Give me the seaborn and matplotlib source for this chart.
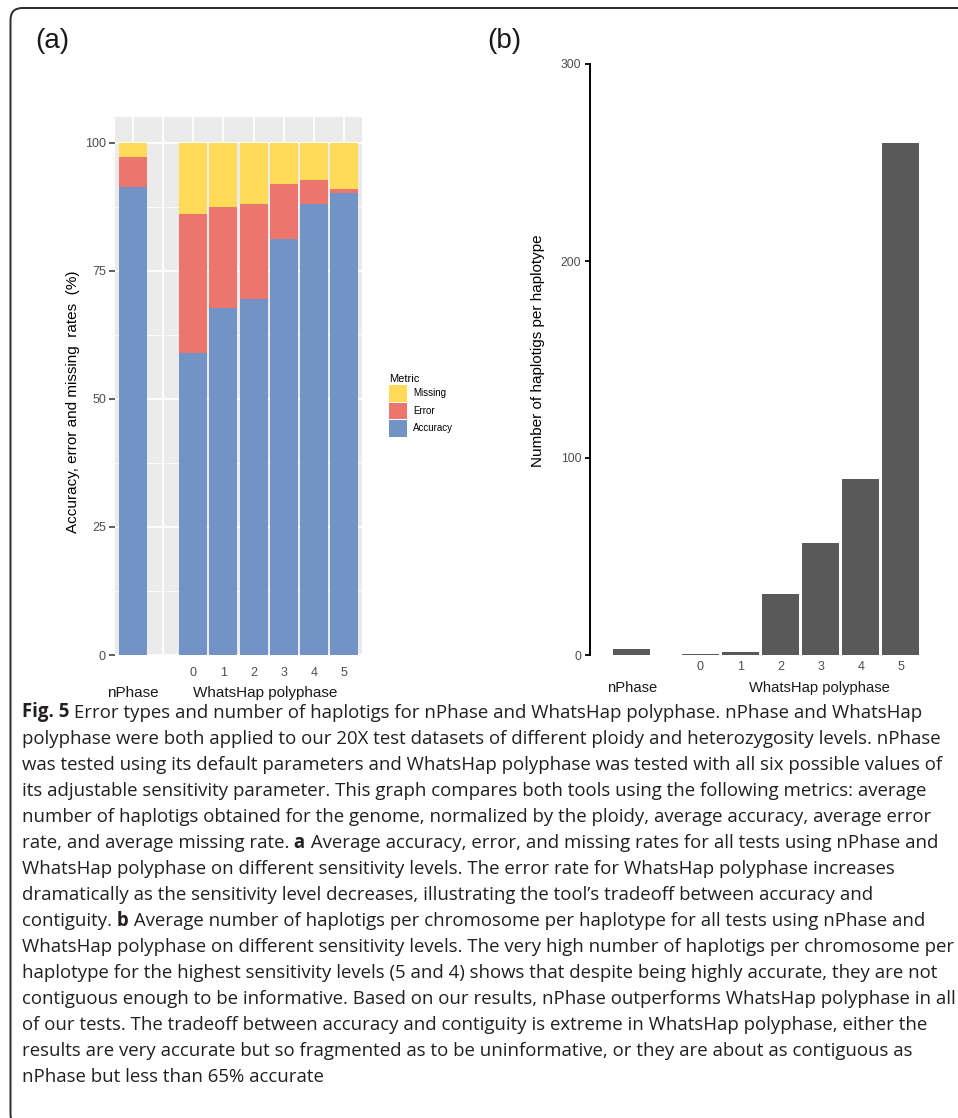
import numpy as np
import pandas as pd
import matplotlib
matplotlib.use("Agg")
import matplotlib.pyplot as plt
import matplotlib.transforms as mtransforms
from matplotlib.patches import Patch, FancyBboxPatch
import seaborn as sns

# ---------------- data ----------------
tools = ["nPhase"] + ["WhatsHap polyphase"] * 6
sensitivity = ["", "0", "1", "2", "3", "4", "5"]
accuracy = [91.4, 59.0, 67.8, 69.4, 81.1, 88.0, 90.1]
error = [5.8, 27.0, 19.7, 18.7, 10.8, 4.7, 0.8]
missing = [2.8, 14.0, 12.5, 11.9, 8.1, 7.3, 9.1]
haplotigs = [2.8, 0.4, 1.7, 30.8, 56.6, 89.2, 259.9]
metric_names = ["Missing", "Error", "Accuracy"]
group_labels = ["nPhase", "WhatsHap polyphase"]

caption_lines = [
    [("Fig. 5", True), (" Error types and number of haplotigs for nPhase and WhatsHap polyphase. nPhase and WhatsHap", False)],
    [("polyphase were both applied to our 20X test datasets of different ploidy and heterozygosity levels. nPhase", False)],
    [("was tested using its default parameters and WhatsHap polyphase was tested with all six possible values of", False)],
    [("its adjustable sensitivity parameter. This graph compares both tools using the following metrics: average", False)],
    [("number of haplotigs obtained for the genome, normalized by the ploidy, average accuracy, average error", False)],
    [("rate, and average missing rate.", False), (" a", True), (" Average accuracy, error, and missing rates for all tests using nPhase and", False)],
    [("WhatsHap polyphase on different sensitivity levels. The error rate for WhatsHap polyphase increases", False)],
    [("dramatically as the sensitivity level decreases, illustrating the tool\u2019s tradeoff between accuracy and", False)],
    [("contiguity.", False), (" b", True), (" Average number of haplotigs per chromosome per haplotype for all tests using nPhase and", False)],
    [("WhatsHap polyphase on different sensitivity levels. The very high number of haplotigs per chromosome per", False)],
    [("haplotype for the highest sensitivity levels (5 and 4) shows that despite being highly accurate, they are not", False)],
    [("contiguous enough to be informative. Based on our results, nPhase outperforms WhatsHap polyphase in all", False)],
    [("of our tests. The tradeoff between accuracy and contiguity is extreme in WhatsHap polyphase, either the", False)],
    [("results are very accurate but so fragmented as to be uninformative, or they are about as contiguous as", False)],
    [("nPhase but less than 65% accurate", False)],
]

# ---------------- style ----------------
plt.rcParams["font.family"] = ["Liberation Sans", "DejaVu Sans"]
W, H = 958, 1118
fig = plt.figure(figsize=(W / 100, H / 100), dpi=100)
fig.patch.set_facecolor("white")

col_missing = "#FFDB57"
col_error = "#EC756D"
col_acc = "#7293C6"
tick_col = "#4D4D4D"

def fx(px):
    return px / W

def fy(py):
    return 1 - py / H

# border (open at the right and bottom edges of the picture); top edge 8 px from the top
border = FancyBboxPatch((10.5, -8), 1000, (H - 8) + 8, boxstyle="round,pad=0,rounding_size=12",
                        transform=mtransforms.IdentityTransform(), facecolor="none",
                        edgecolor="#2b2b2b", linewidth=1.4)
fig.add_artist(border)

# ---------------- panel (a) ----------------
keys = [f"{t} {s}".strip() for t, s in zip(tools, sensitivity)]
order = [keys[0], "gap"] + keys[1:]
dfa = pd.DataFrame({
    "key": keys,
    "Accuracy": accuracy,
    "Error": error,
    "Missing": missing,
})
dfa["top_acc"] = dfa["Accuracy"]
dfa["top_err"] = dfa["Accuracy"] + dfa["Error"]
dfa["top_mis"] = dfa["Accuracy"] + dfa["Error"] + dfa["Missing"]

axa = fig.add_axes([fx(115), fy(655), fx(362 - 115), (655 - 117) / H])
for col, c in [("top_mis", col_missing), ("top_err", col_error), ("top_acc", col_acc)]:
    sns.barplot(data=dfa, x="key", y=col, order=order, color=c, width=0.93,
                saturation=1, linewidth=0, errorbar=None, ax=axa)
axa.set_facecolor("#EBEBEB")
axa.set_ylim(0, 105)
axa.set_xlim(-0.6, len(order) - 0.4)
axa.set_xticks(range(len(order)))
axa.set_xticklabels(["", ""] + sensitivity[1:], fontsize=9, color=tick_col)
axa.set_yticks([0, 25, 50, 75, 100])
axa.set_yticklabels(["0", "25", "50", "75", "100"], fontsize=9, color=tick_col)
axa.set_yticks([12.5, 37.5, 62.5, 87.5], minor=True)
axa.tick_params(axis="x", which="both", length=0, pad=9.0)
axa.tick_params(axis="y", which="major", length=4.3, width=1.1, color="#333333", pad=2.2)
axa.tick_params(axis="y", which="minor", length=0)
axa.grid(which="major", color="white", linewidth=1.3)
axa.grid(which="minor", axis="y", color="white", linewidth=0.6)
axa.set_axisbelow(True)
for s in axa.spines.values():
    s.set_visible(False)
axa.set_xlabel("")
axa.set_ylabel("Accuracy, error and missing  rates  (%)", fontsize=11, color="black")
axa.yaxis.set_label_coords((80 - 115) / (362 - 115), (655 - 402) / (655 - 117))

ta = mtransforms.blended_transform_factory(axa.transData, fig.transFigure)
axa.text(0, fy(693), group_labels[0], transform=ta, ha="center", va="center", fontsize=11, color="#1a1a1a")
axa.text(4.4, fy(693), group_labels[1], transform=ta, ha="center", va="center", fontsize=11, color="#1a1a1a")

handles = [Patch(facecolor=c, edgecolor="none") for c in (col_missing, col_error, col_acc)]
leg = fig.legend(handles, metric_names, loc="upper left", bbox_to_anchor=(fx(389), fy(374)),
                 bbox_transform=fig.transFigure, frameon=False, fontsize=7,
                 title="Metric", title_fontsize=8, alignment="left",
                 handlelength=1.85, handleheight=2.25, labelspacing=0.1,
                 handletextpad=0.6, borderpad=0, borderaxespad=0)

# ---------------- panel (b) ----------------
slot_pos = [-1.7, 0, 1, 2, 3, 4, 5]
dfb = pd.DataFrame({"pos": slot_pos, "n": haplotigs})
axb = fig.add_axes([fx(590), fy(655), fx(925 - 590), (655 - 64) / H])
sns.barplot(data=dfb, x="pos", y="n", native_scale=True, color="#595959", width=0.92,
            saturation=1, linewidth=0, errorbar=None, ax=axb)
axb.set_xlim(-2.74, 5.6)
axb.set_ylim(0, 300)
axb.set_xticks(slot_pos)
axb.set_xticklabels(sensitivity, fontsize=9, color=tick_col)
axb.set_yticks([0, 100, 200, 300])
axb.set_yticklabels(["0", "100", "200", "300"], fontsize=8.8, color=tick_col)
axb.tick_params(axis="x", length=0, pad=4.5)
axb.tick_params(axis="y", length=3.6, width=1.3, color="black", pad=2.6)
for k in ["top", "right", "bottom"]:
    axb.spines[k].set_visible(False)
axb.spines["left"].set_linewidth(1.4)
axb.spines["left"].set_color("black")
axb.set_facecolor("white")
axb.grid(False)
axb.set_xlabel("")
axb.set_ylabel("Number of haplotigs per haplotype", fontsize=11, color="black")
axb.yaxis.set_label_coords((545 - 590) / (925 - 590), (655 - 351) / (655 - 64))

tb = mtransforms.blended_transform_factory(axb.transData, fig.transFigure)
axb.text(slot_pos[0], fy(688), group_labels[0], transform=tb, ha="center", va="center", fontsize=10.6, color="#1a1a1a")
axb.text(2.97, fy(688), group_labels[1], transform=tb, ha="center", va="center", fontsize=10.6, color="#1a1a1a")

# panel labels
fig.text(fx(35), fy(41), "(a)", fontsize=20, va="center", ha="left", color="#1a1a1a")
fig.text(fx(487), fy(41), "(b)", fontsize=20, va="center", ha="left", color="#1a1a1a")

# ---------------- caption ----------------
cap_font = ["Open Sans", "DejaVu Sans"]
cap_col = "#231F20"
renderer = fig.canvas.get_renderer()

def line_width(size, segs):
    total = 0.0
    for text, bold in segs:
        t = fig.text(0, 0.5, text, fontsize=size, family=cap_font,
                     fontweight="bold" if bold else "normal")
        total += t.get_window_extent(renderer).width
        t.remove()
    return total

target = 955 - 22
cap_size = 12.0
for _ in range(3):
    cap_size *= target / line_width(cap_size, caption_lines[9])

for i, segs in enumerate(caption_lines):
    y = fy(717.5 + 26.0 * i)
    x = 22.0
    for text, bold in segs:
        t = fig.text(x / W, y, text, fontsize=cap_size, family=cap_font, color=cap_col,
                     fontweight="bold" if bold else "normal", ha="left", va="baseline")
        x = t.get_window_extent(renderer).x1

fig.savefig("out.png", dpi=100)
